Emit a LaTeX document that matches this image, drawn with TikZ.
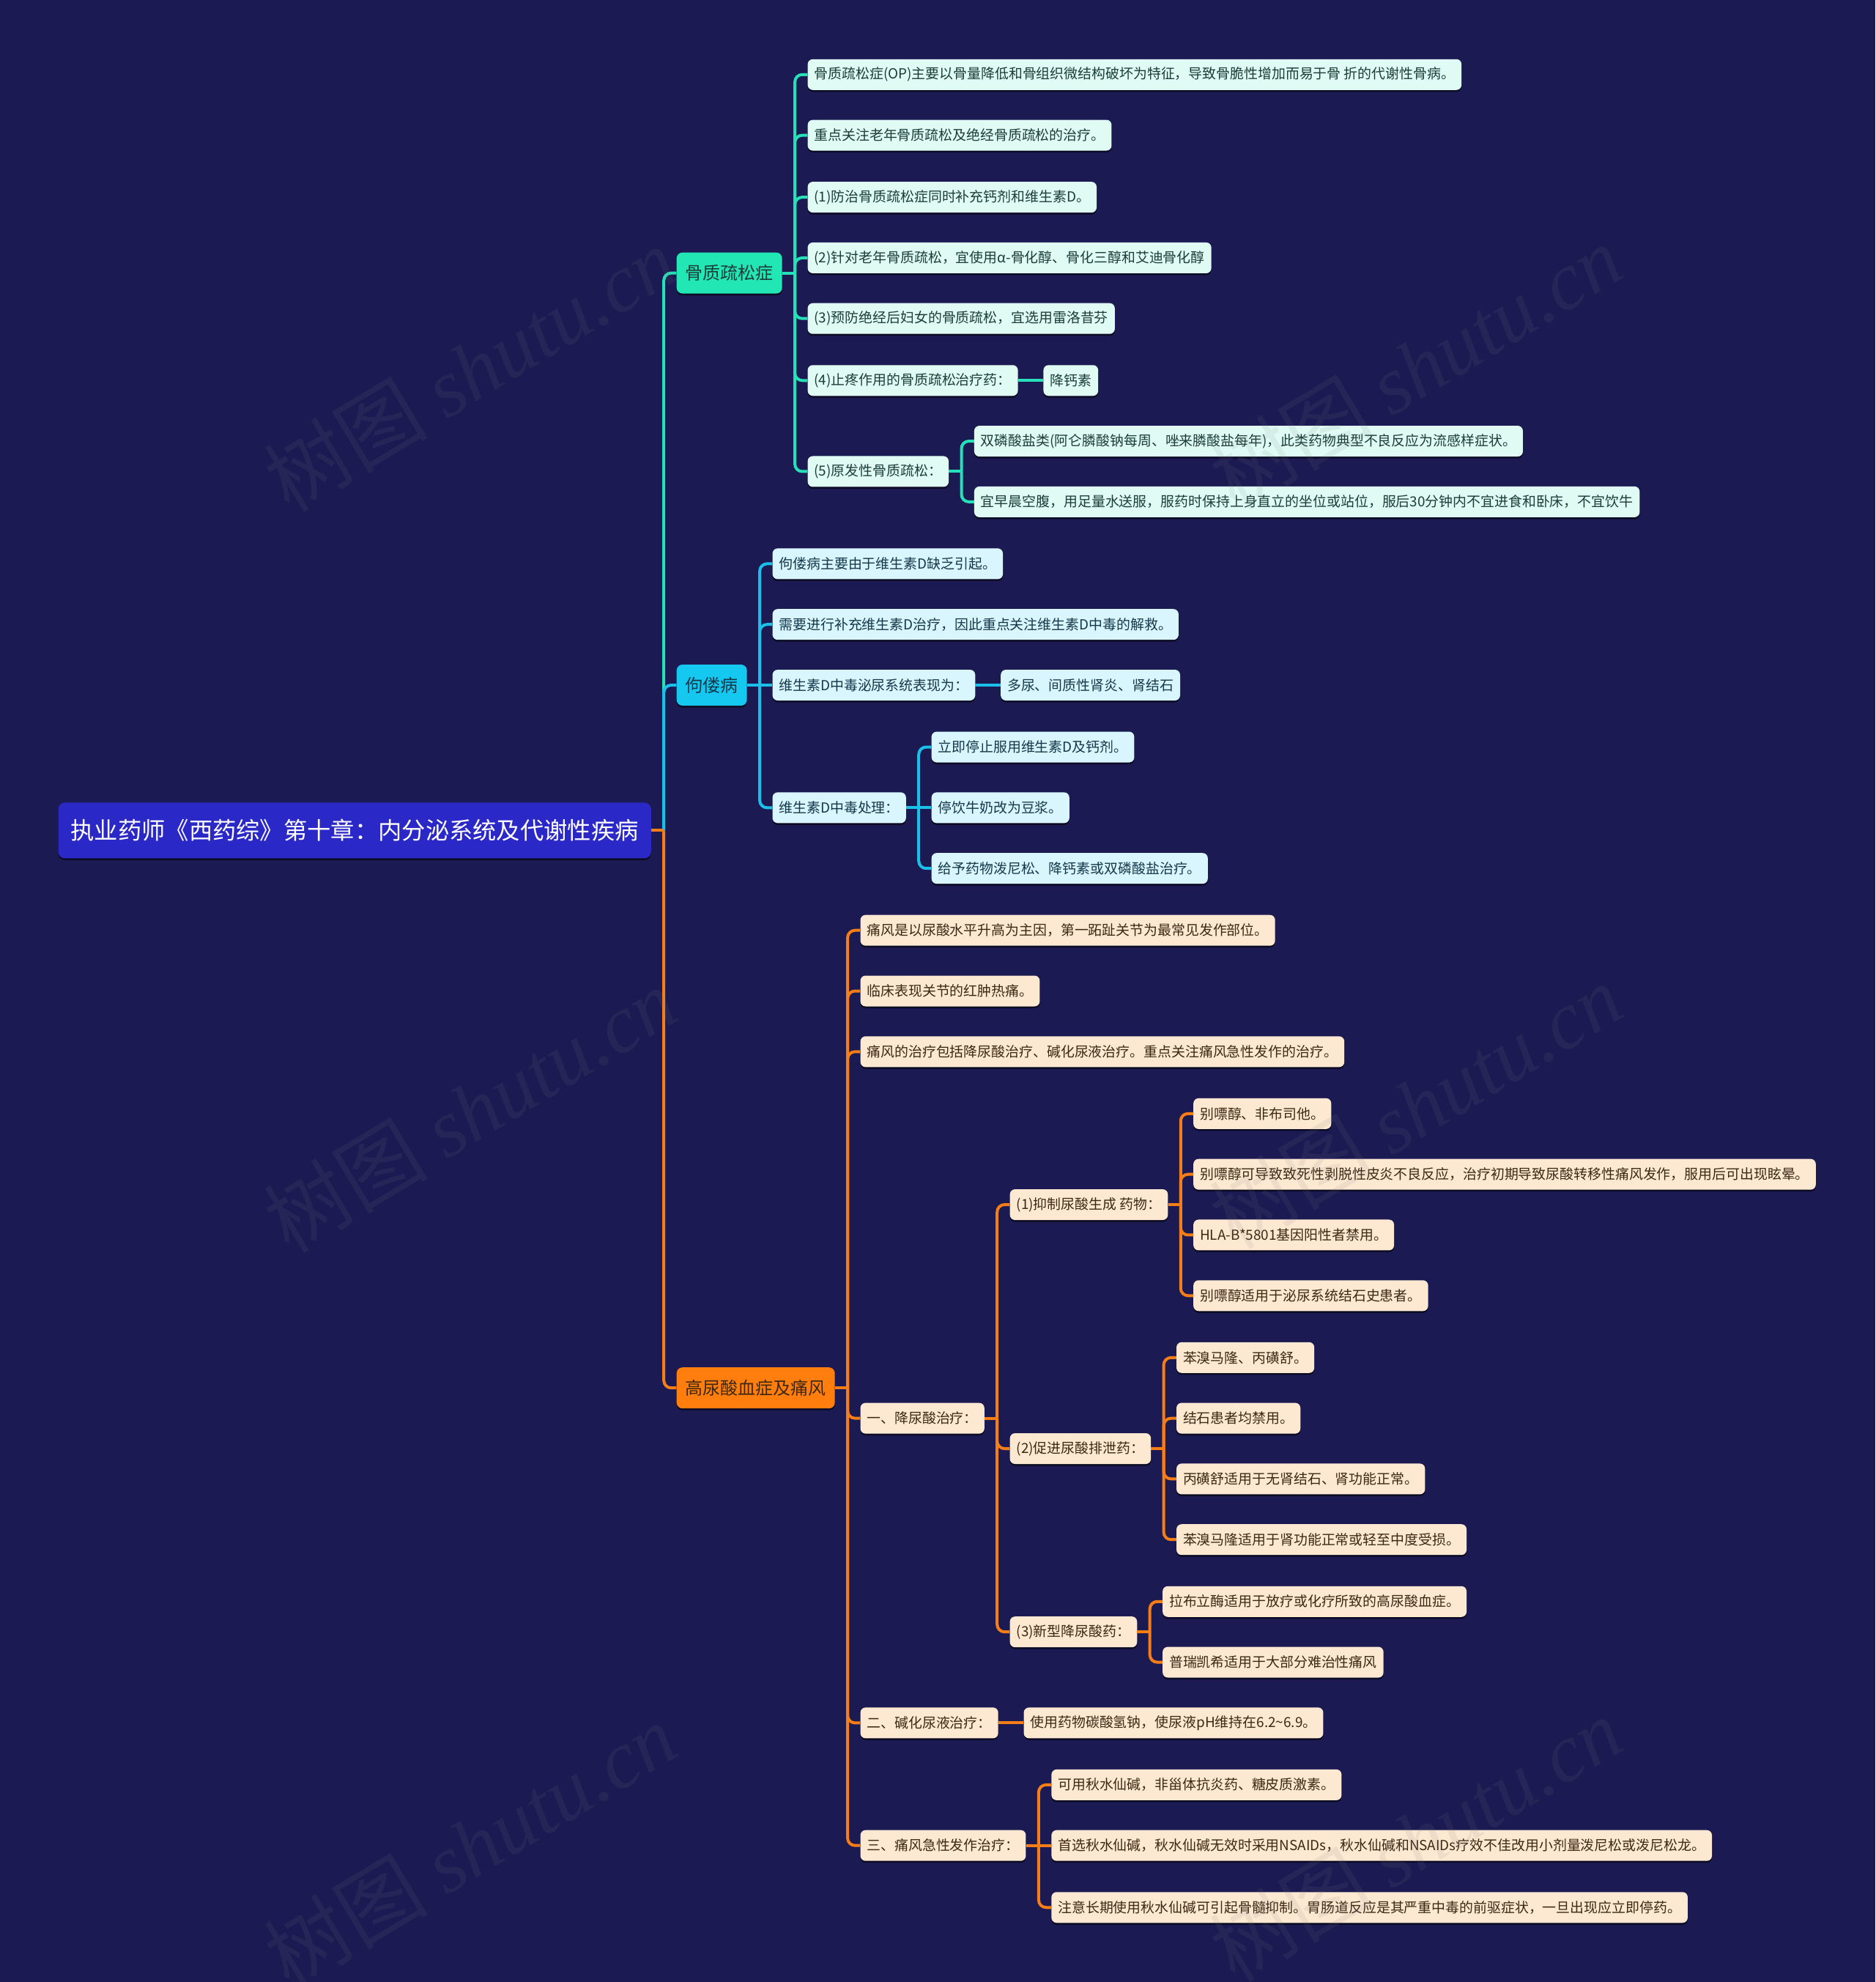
\documentclass[tikz,border=0pt]{standalone}
\usepackage{fontspec}
\setmainfont{Noto Sans CJK SC}
\newfontfamily\wmserif{Liberation Serif}
\usetikzlibrary{shadows}
\definecolor{bgc}{HTML}{1B1A52}
\definecolor{rootc}{HTML}{2B28C8}
\definecolor{tealc}{HTML}{22E6B4}
\definecolor{cyanc}{HTML}{14C8F0}
\definecolor{orangec}{HTML}{FF7E0D}
\definecolor{tealln}{HTML}{26E0B8}
\definecolor{cyanln}{HTML}{1AC0EA}
\definecolor{orangeln}{HTML}{F77E17}
\definecolor{mintf}{HTML}{DFFBF3}
\definecolor{bluef}{HTML}{D9F5FD}
\definecolor{peachf}{HTML}{FDE8D2}
\definecolor{minttx}{HTML}{1B3D39}
\definecolor{bluetx}{HTML}{14384A}
\definecolor{peachtx}{HTML}{3D2814}
\tikzset{
  boxbase/.style={rounded corners=7pt, anchor=west, drop shadow={shadow xshift=0pt,shadow yshift=-2.5pt,opacity=0.55,fill=black}},
  rootbox/.style={boxbase, fill=rootc, text=white, font=\fontsize{32.3pt}{40pt}\selectfont, minimum height=76pt, inner xsep=17pt, inner ysep=0pt, rounded corners=9pt},
  lone/.style={boxbase, font=\fontsize{24pt}{29pt}\selectfont, minimum height=56pt, inner xsep=12pt, inner ysep=0pt, rounded corners=8pt},
  lga/.style={lone, fill=tealc, text=minttx},
  lgb/.style={lone, fill=cyanc, text=bluetx},
  lgc/.style={lone, fill=orangec, text=peachtx},
  ltwo/.style={boxbase, font=\fontsize{18.9pt}{22pt}\selectfont, minimum height=42pt, inner xsep=9pt, inner ysep=0pt},
  ma/.style={ltwo, fill=mintf, text=minttx},
  mb/.style={ltwo, fill=bluef, text=bluetx},
  mc/.style={ltwo, fill=peachf, text=peachtx},
  lna/.style={draw=tealln, line width=4pt},
  lnb/.style={draw=cyanln, line width=4pt},
  lnc/.style={draw=orangeln, line width=4pt},
  wmark/.style={rotate=31, text=gray, opacity=0.11, font=\fontsize{112pt}{120pt}\selectfont}
}
\newcommand\kid[5]{\node[#1, xshift=34.5pt] (#3) at (#2.east |- 0,#4) {#5};}
\newcommand\lnk[3]{\draw[#1] (#2.east) -- ++(17.25pt,0);
  \draw[#1, rounded corners=10pt] ([xshift=17.25pt]#2.east) |- (#3.west);}
\newcommand\lnkst[3]{\draw[#1] (#2.east) -- (#3.west);}
\begin{document}
\begin{tikzpicture}[x=1.7251pt, y=-1.7251pt]
\fill[bgc] (0,0) rectangle (1484,1568);
\useasboundingbox (0,0) rectangle (1484,1568);

\node[rootbox] (r) at (46,657) {执业药师《西药综》第十章：内分泌系统及代谢性疾病};
\kid{lga}{r}{a}{216}{骨质疏松症}
\kid{lgb}{r}{b}{542}{佝偻病}
\kid{lgc}{r}{c}{1098}{高尿酸血症及痛风}

% osteoporosis
\kid{ma}{a}{a1}{59}{骨质疏松症(OP)主要以骨量降低和骨组织微结构破坏为特征，导致骨脆性增加而易于骨 折的代谢性骨病。}
\kid{ma}{a}{a2}{107}{重点关注老年骨质疏松及绝经骨质疏松的治疗。}
\kid{ma}{a}{a3}{156}{(1)防治骨质疏松症同时补充钙剂和维生素D。}
\kid{ma}{a}{a4}{204}{(2)针对老年骨质疏松，宜使用α-骨化醇、骨化三醇和艾迪骨化醇}
\kid{ma}{a}{a5}{252}{(3)预防绝经后妇女的骨质疏松，宜选用雷洛昔芬}
\kid{ma}{a}{a6}{301}{(4)止疼作用的骨质疏松治疗药：}
\kid{ma}{a6}{a61}{301}{降钙素}
\kid{ma}{a}{a7}{373}{(5)原发性骨质疏松：}
\kid{ma}{a7}{a71}{349}{双磷酸盐类(阿仑膦酸钠每周、唑来膦酸盐每年)，此类药物典型不良反应为流感样症状。}
\kid{ma}{a7}{a72}{397}{宜早晨空腹，用足量水送服，服药时保持上身直立的坐位或站位，服后30分钟内不宜进食和卧床，不宜饮牛}

% rickets
\kid{mb}{b}{b1}{446}{佝偻病主要由于维生素D缺乏引起。}
\kid{mb}{b}{b2}{494}{需要进行补充维生素D治疗，因此重点关注维生素D中毒的解救。}
\kid{mb}{b}{b3}{542}{维生素D中毒泌尿系统表现为：}
\kid{mb}{b3}{b31}{542}{多尿、间质性肾炎、肾结石}
\kid{mb}{b}{b4}{639}{维生素D中毒处理：}
\kid{mb}{b4}{b41}{591}{立即停止服用维生素D及钙剂。}
\kid{mb}{b4}{b42}{639}{停饮牛奶改为豆浆。}
\kid{mb}{b4}{b43}{687}{给予药物泼尼松、降钙素或双磷酸盐治疗。}

% gout
\kid{mc}{c}{c1}{736}{痛风是以尿酸水平升高为主因，第一跖趾关节为最常见发作部位。}
\kid{mc}{c}{c2}{784}{临床表现关节的红肿热痛。}
\kid{mc}{c}{c3}{832}{痛风的治疗包括降尿酸治疗、碱化尿液治疗。重点关注痛风急性发作的治疗。}
\kid{mc}{c}{c4}{1122}{一、降尿酸治疗：}
\kid{mc}{c4}{c41}{953}{(1)抑制尿酸生成 药物：}
\kid{mc}{c41}{c411}{881}{别嘌醇、非布司他。}
\kid{mc}{c41}{c412}{929}{别嘌醇可导致致死性剥脱性皮炎不良反应，治疗初期导致尿酸转移性痛风发作，服用后可出现眩晕。}
\kid{mc}{c41}{c413}{977}{HLA-B*5801基因阳性者禁用。}
\kid{mc}{c41}{c414}{1025}{别嘌醇适用于泌尿系统结石史患者。}
\kid{mc}{c4}{c42}{1146}{(2)促进尿酸排泄药：}
\kid{mc}{c42}{c421}{1074}{苯溴马隆、丙磺舒。}
\kid{mc}{c42}{c422}{1122}{结石患者均禁用。}
\kid{mc}{c42}{c423}{1170}{丙磺舒适用于无肾结石、肾功能正常。}
\kid{mc}{c42}{c424}{1218}{苯溴马隆适用于肾功能正常或轻至中度受损。}
\kid{mc}{c4}{c43}{1291}{(3)新型降尿酸药：}
\kid{mc}{c43}{c431}{1267}{拉布立酶适用于放疗或化疗所致的高尿酸血症。}
\kid{mc}{c43}{c432}{1315}{普瑞凯希适用于大部分难治性痛风}
\kid{mc}{c}{c5}{1363}{二、碱化尿液治疗：}
\kid{mc}{c5}{c51}{1363}{使用药物碳酸氢钠，使尿液pH维持在6.2\textasciitilde6.9。}
\kid{mc}{c}{c6}{1460}{三、痛风急性发作治疗：}
\kid{mc}{c6}{c61}{1412}{可用秋水仙碱，非甾体抗炎药、糖皮质激素。}
\kid{mc}{c6}{c62}{1460}{首选秋水仙碱，秋水仙碱无效时采用NSAIDs，秋水仙碱和NSAIDs疗效不佳改用小剂量泼尼松或泼尼松龙。}
\kid{mc}{c6}{c63}{1509}{注意长期使用秋水仙碱可引起骨髓抑制。胃肠道反应是其严重中毒的前驱症状，一旦出现应立即停药。}

% connectors
\lnk{lna}{r}{a}
\lnk{lnb}{r}{b}
\lnk{lnc}{r}{c}
\foreach \k in {a1,a2,a3,a4,a5,a7} {\lnk{lna}{a}{\k}}
\lnk{lna}{a}{a6}
\lnkst{lna}{a6}{a61}
\lnk{lna}{a7}{a71}
\lnk{lna}{a7}{a72}
\foreach \k in {b1,b2,b4} {\lnk{lnb}{b}{\k}}
\lnkst{lnb}{b}{b3}
\lnkst{lnb}{b3}{b31}
\foreach \k in {b41,b43} {\lnk{lnb}{b4}{\k}}
\lnkst{lnb}{b4}{b42}
\foreach \k in {c1,c2,c3,c4,c5,c6} {\lnk{lnc}{c}{\k}}
\foreach \k in {c41,c42,c43} {\lnk{lnc}{c4}{\k}}
\foreach \k in {c411,c412,c413,c414} {\lnk{lnc}{c41}{\k}}
\foreach \k in {c421,c422,c423,c424} {\lnk{lnc}{c42}{\k}}
\foreach \k in {c431,c432} {\lnk{lnc}{c43}{\k}}
\lnkst{lnc}{c5}{c51}
\foreach \k in {c61,c63} {\lnk{lnc}{c6}{\k}}
\lnkst{lnc}{c6}{c62}

% watermarks
\foreach \wx/\wy [count=\i] in {372/292, 1120/290, 372/878, 1120/875, 372/1460, 1120/1455} {
  \node[wmark] (wm\i) at (\wx,\wy) {树图 {\wmserif\itshape shutu.cn}};
}
\end{tikzpicture}
\end{document}
